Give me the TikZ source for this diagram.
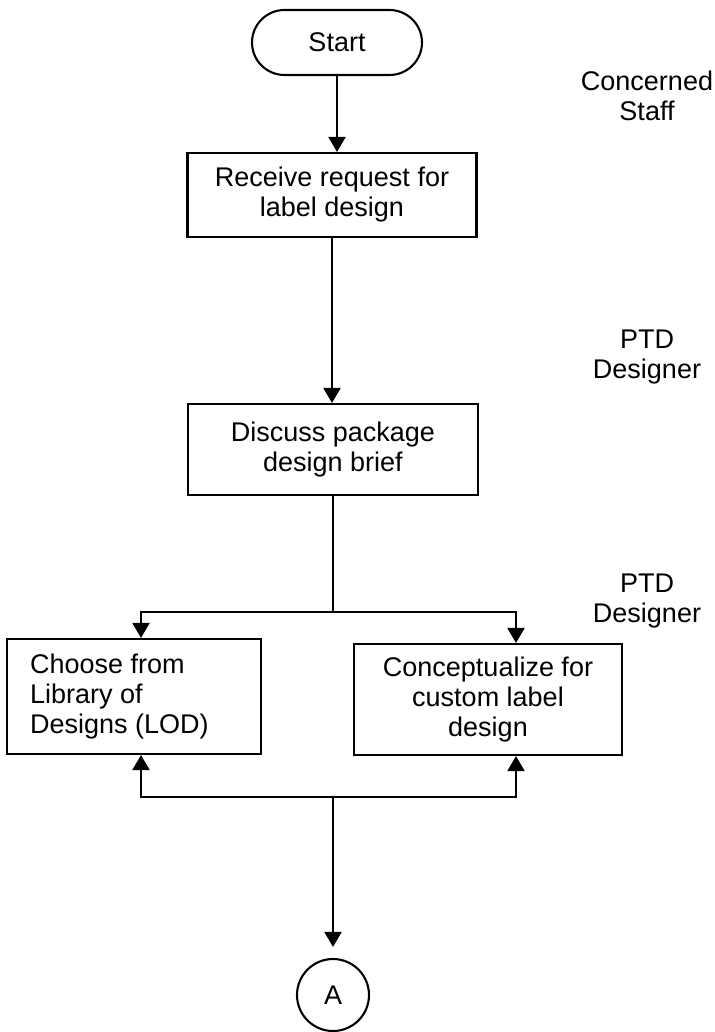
\documentclass[tikz,border=0pt]{standalone}
\usepackage{fontspec}
\setmainfont{Liberation Sans}
\usetikzlibrary{arrows.meta,shapes.misc}

\tikzset{
  txt/.style={font=\fontsize{27}{30}\selectfont},
  stepbox/.style={draw, rectangle, inner sep=0pt, align=center, txt},
  terminal/.style={draw, rounded rectangle, inner sep=0pt, txt,
                   minimum width=170pt, minimum height=65pt},
  connector/.style={draw, circle, inner sep=0pt, txt, minimum size=72pt},
  role/.style={align=center, inner sep=0pt, txt},
  flow/.style={-{Triangle[length=15pt,width=17pt]}},
}

\begin{document}
\begin{tikzpicture}[x=1pt, y=-1pt, line width=2.1pt]
  \useasboundingbox[fill=white] (0,0) rectangle (714,1032);

  % process steps
  \node[terminal] (start) at (337,42.5) {Start};
  \node[stepbox, minimum width=289pt, minimum height=84pt] (receive) at (332,195)
       {Receive request for\\label design};
  \node[stepbox, minimum width=290pt, minimum height=91pt] (discuss) at (333,449.5)
       {Discuss package\\design brief};
  \node[stepbox, minimum width=254pt, minimum height=115pt] (choose) at (134,696.5) {};
  \node[role, align=left, anchor=west] (choosetxt) at (29,696.5)
       {Choose from\\Library of\\Designs (LOD)};
  \node[stepbox, minimum width=268pt, minimum height=111pt] (concept) at (488,699.5)
       {Conceptualize for\\custom label\\design};
  \node[connector] (pageA) at (333,995) {A};

  % responsible roles
  \node[role] (roleA) at (647,96)  {Concerned\\Staff};
  \node[role] (roleB) at (647,357) {PTD\\Designer};
  \node[role] (roleC) at (647,601) {PTD\\Designer};

  % branch and merge points
  \coordinate (split) at (333,612);
  \coordinate (merge) at (333,797);

  % connectors
  \draw[flow] (start.south) -- (start.south |- receive.north);
  \draw[flow] (receive.south) -- (receive.south |- discuss.north);
  \draw (discuss.south) -- (split);
  \draw[flow] (split) -| ([xshift=7pt]choose.north);
  \draw[flow] (split) -| ([xshift=28pt]concept.north);
  \draw[flow] (merge) -| ([xshift=7pt]choose.south);
  \draw[flow] (merge) -| ([xshift=28pt]concept.south);
  \draw[flow, shorten >=11pt] (merge) -- (pageA);
\end{tikzpicture}
\end{document}
